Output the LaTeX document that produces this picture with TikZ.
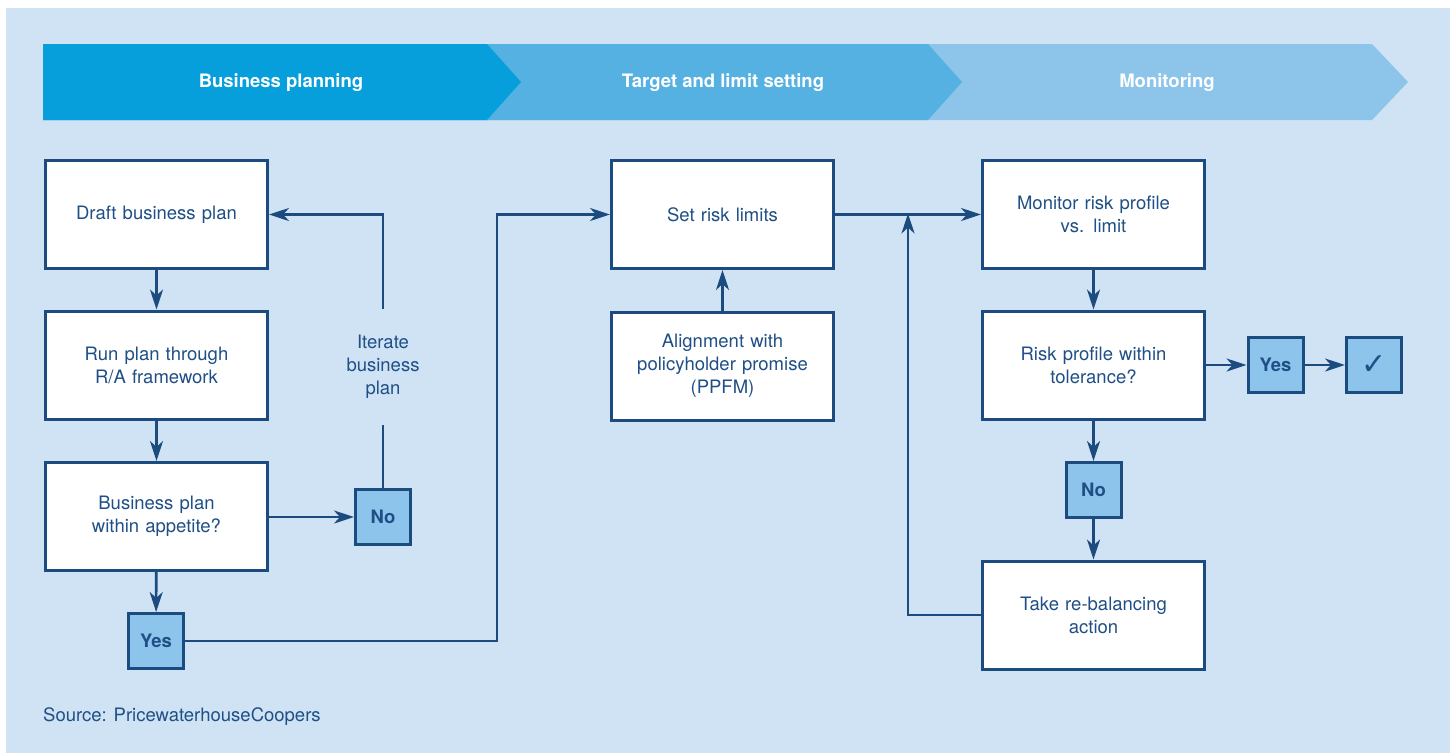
\documentclass[tikz,border=0pt]{standalone}
\usepackage{fontspec}
\setmainfont{TeX Gyre Heros}
\newfontfamily\dejavu{DejaVu Sans}
\usetikzlibrary{arrows.meta}
\definecolor{bg}{HTML}{CFE3F4}
\definecolor{chA}{HTML}{069FDB}
\definecolor{chB}{HTML}{56B1E3}
\definecolor{chC}{HTML}{8CC4EA}
\definecolor{smallfill}{HTML}{8DC4EB}
\definecolor{navy}{HTML}{1B4B7F}
\definecolor{txt}{HTML}{1F4F86}
\begin{document}
\begin{tikzpicture}[x=1pt,y=-1pt,
  font=\fontsize{18.5}{23}\selectfont,
  bigbox/.style={draw=navy, line width=3pt, fill=white, minimum width=222pt, minimum height=108pt, text width=205pt, align=center, text=txt, inner sep=0pt},
  smallbox/.style={draw=navy, line width=3pt, fill=smallfill, minimum size=55pt, inner sep=0pt, text=txt, font=\fontsize{18.5}{23}\selectfont\bfseries},
  conn/.style={draw=navy, line width=2.6pt},
  arr/.style={conn, -{Stealth[length=20pt,width=13pt,inset=6pt]}},
  hdr/.style={text=white, inner sep=0pt, font=\fontsize{18.5}{23}\selectfont\bfseries}
]
\useasboundingbox (0,0) rectangle (1450,753);
\fill[bg] (6,8) rectangle (1450,753);

% header chevrons
\fill[chC] (43,44) -- (1372,44) -- (1408,82) -- (1372,120) -- (43,120) -- cycle;
\fill[chB] (43,44) -- (928,44) -- (962,82) -- (928,120) -- (43,120) -- cycle;
\fill[chA] (43,44) -- (487,44) -- (521,82) -- (487,120) -- (43,120) -- cycle;
\node[hdr] (h1) at (281,83) {Business planning};
\node[hdr] (h2) at (723,83) {Target and limit setting};
\node[hdr] (h3) at (1167,83) {Monitoring};

% column 1
\node[bigbox] (draft) at (156.5,214.5) {Draft business plan};
\node[bigbox] (run) at (156.5,365) {Run plan through\\R/A framework};
\node[bigbox] (app) at (156.5,516.5) {Business plan\\within appetite?};
\node[smallbox] (yes1) at (156,641) {Yes};
\node[smallbox] (no1) at (383,517) {No};
\node[text=txt, align=center, inner sep=0pt, minimum height=116pt] (iter) at (383,367) {Iterate\\business\\plan};

% column 2
\node[bigbox] (limits) at (722.5,214.5) {Set risk limits};
\node[bigbox] (ppfm) at (722.5,366) {Alignment with\\policyholder promise\\(PPFM)};

% column 3
\node[bigbox] (mon) at (1093.5,214.5) {Monitor risk profile\\vs. limit};
\node[bigbox] (tol) at (1093.5,365) {Risk profile within\\tolerance?};
\node[smallbox] (yes2) at (1275.5,365) {Yes};
\node[smallbox] (ok) at (1374,365) {\dejavu\fontsize{30}{30}\selectfont\mdseries ✓};
\node[smallbox] (no2) at (1093.5,490) {No};
\node[bigbox] (reb) at (1093.5,615) {Take re-balancing\\action};

% source
\node[anchor=west, text=txt, inner sep=0pt] (src) at (43,717) {Source: PricewaterhouseCoopers};

% connectors
\coordinate (j1) at (497,641);
\coordinate (j2) at (908,213.5);
\draw[arr] (draft) -- (run);
\draw[arr] (run) -- (app);
\draw[arr] (app) -- (yes1);
\draw[arr] (app.east |- no1) -- (no1);
\draw[conn] (no1) -- (iter.south);
\draw[arr] (iter.north) |- (draft.east);
\draw[arr] (yes1) -- (j1) |- (limits.west);
\draw[arr] (ppfm) -- (limits);
\draw[arr] (limits) -- (mon);
\draw[arr] (reb.west) -| (j2);
\draw[arr] (mon) -- (tol);
\draw[arr] (tol.east |- yes2) -- (yes2);
\draw[arr] (yes2) -- (ok);
\draw[arr] (tol) -- (no2);
\draw[arr] (no2) -- (reb);
\end{tikzpicture}
\end{document}
